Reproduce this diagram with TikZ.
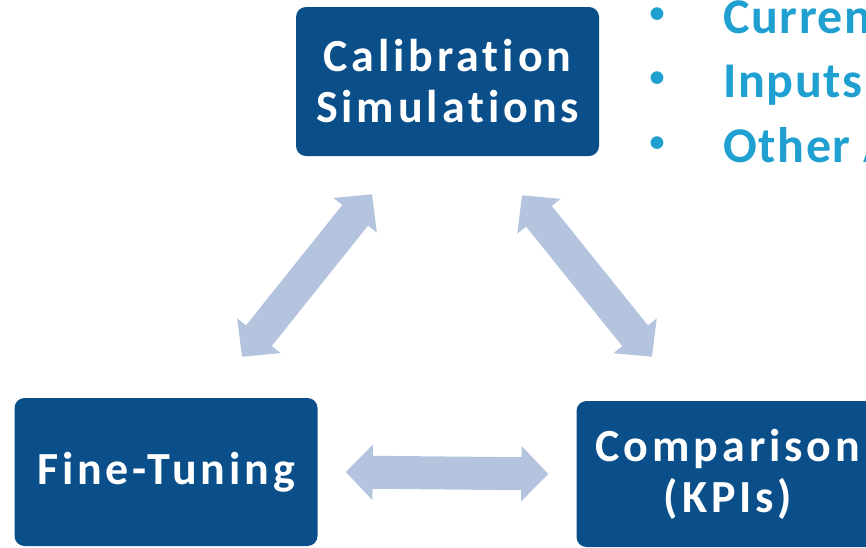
\documentclass[tikz,border=0pt]{standalone}
\usepackage{fontspec}
\setmainfont{Carlito}[Ligatures=NoCommon, LetterSpace=3]
\newfontfamily\stagefont{Carlito}[Ligatures=NoCommon, LetterSpace=8.5]
\usetikzlibrary{arrows.meta}
\definecolor{boxblue}{RGB}{10,78,138}
\definecolor{arrowgray}{RGB}{180,196,222}
\definecolor{bulletblue}{RGB}{32,160,208}
\begin{document}
\begin{tikzpicture}[x=1pt,y=-1pt,
    stage/.style={fill=boxblue, rounded corners=10pt, text=white, align=center,
        minimum width=303pt, minimum height=148pt, font=\stagefont\fontsize{46}{51}\selectfont\bfseries},
    twoway/.style={draw=arrowgray, line width=33pt,
        {Triangle[width=54pt,length=27pt]}-{Triangle[width=54pt,length=27pt]}},
    point/.style={text=bulletblue, anchor=base west, font=\fontsize{50}{60}\selectfont\bfseries},
    dot/.style={text=bulletblue, anchor=base, font=\fontsize{30}{30}\selectfont\bfseries}]
            \useasboundingbox (0,0) rectangle (866,547);
            \node [stage, minimum height=149pt] (calib) at (447.5,81.5) {Calibration\\Simulations};
            \node [stage] (fine) at (166,472) {Fine-Tuning};
            \node [stage, minimum height=146pt] (comp) at (728,474) {Comparison\\(KPIs)};
            \draw [twoway] ([shift={(76,-41)}]fine.north) -- ([shift={(-75.5,38)}]calib.south);
            \draw [twoway] ([shift={(74.5,39)}]calib.south) -- ([shift={(-76,-44)}]comp.north);
            \draw [twoway] ([xshift=28pt]fine.east) -- ([xshift=-28pt]comp.west);
            \node [dot] (dot1) at (657,22) {•};
            \node [dot] (dot2) at (657,86) {•};
            \node [dot] (dot3) at (657,151) {•};
            \node [point] (item1) at (720,33) {Curren};
            \node [point] (item2) at (720,97) {Inputs};
            \node [point] (item3) at (720,162) {Other A};
        \end{tikzpicture}
\end{document}
